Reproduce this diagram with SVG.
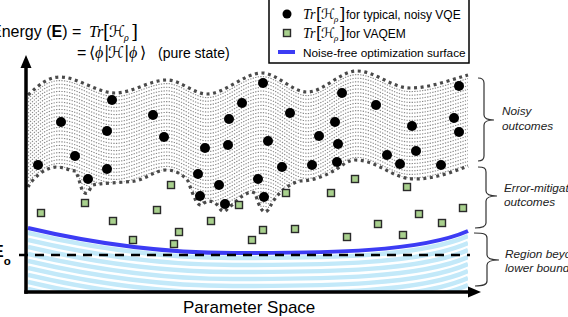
<svg xmlns="http://www.w3.org/2000/svg" xmlns:xlink="http://www.w3.org/1999/xlink" width="568" height="317" viewBox="0 0 568 317">
<style>
  text { font-family: "Liberation Sans", Arial, sans-serif; fill: #000; }
  .mi { font-family: "Liberation Serif", "DejaVu Serif", serif; font-style: italic; }
  .ms { font-family: "DejaVu Serif", "DejaVu Sans", "Noto Sans CJK SC", serif; font-style: normal; }
  .ab { font-family: "DejaVu Sans", "Noto Sans CJK SC", sans-serif; font-style: normal; font-size: 16px; }
  .lbl { font-style: italic; font-size: 11.8px; fill: #222; }
  .dot { fill: #000; }
  .sq { fill: #a8d08d; stroke: #2a2a2a; stroke-width: 1.4; }
  .edge { fill: none; stroke: #4a4a4a; stroke-width: 3.2; stroke-dasharray: 3 3.6; }
  .hatch { fill: none; stroke: #868686; stroke-width: 1.1; stroke-dasharray: 1.3 1.3; }
  .stripe { fill: none; stroke: #c3e9f9; stroke-width: 4.5; }
  .brace { fill: none; stroke: #333; stroke-width: 1.2; }
  .axis { stroke: #000; stroke-width: 3.5; fill: none; }
</style>
<defs>
  <path id="topc" d="M28,95 C40,84 48,77 60,77 C78,77 97,93 115,93 C132,93 150,80 167,80 C180,80 194,94 207,94 C225,94 244,73 262,73 C277,73 292,92 307,92 C324,92 340,71 357,71 C375,71 392,88 410,88 C430,88 450,80 468,75"/>
  <path id="botc" d="M28,187 C33,178 45,167 57,167 C64,167 70,171 76,171 L79,180 L82,190 Q86,197 90,189 L93,185 C100,183 120,183 135,181 C148,178 156,170 166,170 C176,170 183,175 188,181 L192,192 L196,201 Q200,208 204,203 L208,201 C212,201 216,203 219,207 Q223,215 228,208 L232,205 C238,199 245,193 252,192 L255,193 L258,202 Q263,216 268,210 L271,205 C276,196 285,185 300,181 C312,181 325,176 335,170 C343,165 348,160 355,160 C378,160 392,179 415,179 C435,179 452,172 468,166"/>
  <path id="bluec" d="M28,228 C100,245 170,253 233,253 C330,253 420,252 468,231"/>
  <clipPath id="belowTop">
    <path d="M28,95 C40,84 48,77 60,77 C78,77 97,93 115,93 C132,93 150,80 167,80 C180,80 194,94 207,94 C225,94 244,73 262,73 C277,73 292,92 307,92 C324,92 340,71 357,71 C375,71 392,88 410,88 C430,88 450,80 468,75 L468,300 L28,300 Z"/>
  </clipPath>
  <clipPath id="aboveBot">
    <path d="M28,187 C33,178 45,167 57,167 C64,167 70,171 76,171 L79,180 L82,190 Q86,197 90,189 L93,185 C100,183 120,183 135,181 C148,178 156,170 166,170 C176,170 183,175 188,181 L192,192 L196,201 Q200,208 204,203 L208,201 C212,201 216,203 219,207 Q223,215 228,208 L232,205 C238,199 245,193 252,192 L255,193 L258,202 Q263,216 268,210 L271,205 C276,196 285,185 300,181 C312,181 325,176 335,170 C343,165 348,160 355,160 C378,160 392,179 415,179 C435,179 452,172 468,166 L468,50 L28,50 Z"/>
  </clipPath>
  <clipPath id="belowBlue">
    <path d="M28,228 C100,245 170,253 233,253 C330,253 420,252 468,231 L468,291 L28,291 Z"/>
  </clipPath>
</defs>

<!-- lower-bound region stripes -->
<g id="lower-bound-region">
  <g clip-path="url(#belowBlue)" class="stripe">
    <use xlink:href="#bluec" y="5"/>
    <use xlink:href="#bluec" y="12"/>
    <use xlink:href="#bluec" y="19"/>
    <use xlink:href="#bluec" y="26"/>
    <use xlink:href="#bluec" y="33"/>
    <use xlink:href="#bluec" y="40"/>
    <use xlink:href="#bluec" y="47"/>
    <use xlink:href="#bluec" y="54"/>
    <use xlink:href="#bluec" y="61"/>
    <use xlink:href="#bluec" y="68"/>
  </g>
</g>

<!-- noisy region -->
<g id="noisy-region">
  <g clip-path="url(#belowTop)">
    <g clip-path="url(#aboveBot)" class="hatch">
      <use xlink:href="#topc" y="3.6"/><use xlink:href="#topc" y="7.2"/><use xlink:href="#topc" y="10.8"/><use xlink:href="#topc" y="14.4"/>
      <use xlink:href="#topc" y="18"/><use xlink:href="#topc" y="21.6"/><use xlink:href="#topc" y="25.2"/><use xlink:href="#topc" y="28.8"/>
      <use xlink:href="#topc" y="32.4"/><use xlink:href="#topc" y="36"/><use xlink:href="#topc" y="39.6"/><use xlink:href="#topc" y="43.2"/>
      <use xlink:href="#topc" y="46.8"/><use xlink:href="#topc" y="50.4"/><use xlink:href="#topc" y="54"/><use xlink:href="#topc" y="57.6"/>
      <use xlink:href="#topc" y="61.2"/><use xlink:href="#topc" y="64.8"/><use xlink:href="#topc" y="68.4"/><use xlink:href="#topc" y="72"/>
      <use xlink:href="#topc" y="75.6"/><use xlink:href="#topc" y="79.2"/><use xlink:href="#topc" y="82.8"/><use xlink:href="#topc" y="86.4"/>
      <use xlink:href="#topc" y="90"/><use xlink:href="#topc" y="93.6"/><use xlink:href="#topc" y="97.2"/><use xlink:href="#topc" y="100.8"/>
      <use xlink:href="#topc" y="104.4"/><use xlink:href="#topc" y="108"/><use xlink:href="#topc" y="111.6"/><use xlink:href="#topc" y="115.2"/>
      <use xlink:href="#topc" y="118.8"/><use xlink:href="#topc" y="122.4"/><use xlink:href="#topc" y="126"/><use xlink:href="#topc" y="129.6"/>
      <use xlink:href="#topc" y="133.2"/><use xlink:href="#topc" y="136.8"/><use xlink:href="#topc" y="140.4"/><use xlink:href="#topc" y="144"/>
    </g>
  </g>
  <use xlink:href="#topc" class="edge"/>
  <use xlink:href="#botc" class="edge"/>
</g>

<!-- noise-free surface and lower bound -->
<g id="noise-free-surface">
  <use xlink:href="#bluec" fill="none" stroke="#3c3cf4" stroke-width="4"/>
</g>
<g id="lower-bound-line">
  <line x1="19" y1="255" x2="470" y2="255" stroke="#000" stroke-width="2.5" stroke-dasharray="9 7"/>
  <text x="-7" y="257" font-size="16" font-weight="bold">E<tspan font-size="11.5" dy="8">o</tspan></text>
</g>

<!-- noisy VQE points -->
<g id="noisy-points" class="dot">
  <circle cx="38" cy="165" r="5"/><circle cx="61" cy="122" r="5"/><circle cx="75" cy="156" r="5"/>
  <circle cx="88" cy="179" r="5"/><circle cx="107" cy="131" r="5"/><circle cx="107" cy="169" r="5"/>
  <circle cx="112" cy="100" r="5"/><circle cx="153" cy="115" r="5"/><circle cx="164" cy="137" r="5"/>
  <circle cx="198" cy="174" r="5"/><circle cx="200" cy="196" r="5"/><circle cx="205" cy="148" r="5"/>
  <circle cx="219" cy="185" r="5"/><circle cx="225" cy="204" r="5"/><circle cx="228" cy="145" r="5"/>
  <circle cx="229" cy="119" r="5"/><circle cx="242" cy="103" r="5"/><circle cx="258" cy="179" r="5"/>
  <circle cx="263" cy="83" r="5"/><circle cx="264" cy="197" r="5"/><circle cx="268" cy="141" r="5"/>
  <circle cx="282" cy="167" r="5"/><circle cx="290" cy="113" r="5"/><circle cx="312" cy="165" r="5"/>
  <circle cx="319" cy="136" r="5"/><circle cx="335" cy="122" r="5"/><circle cx="337" cy="162" r="5"/>
  <circle cx="338" cy="144" r="5"/><circle cx="342" cy="93" r="5"/><circle cx="376" cy="105" r="5"/>
  <circle cx="387" cy="155" r="5"/><circle cx="400" cy="164" r="5"/><circle cx="412" cy="126" r="5"/>
  <circle cx="416" cy="151" r="5"/><circle cx="441" cy="165" r="5"/><circle cx="454" cy="118" r="5"/>
  <circle cx="459" cy="86" r="5"/><circle cx="459" cy="132" r="5"/>
</g>

<!-- VAQEM points -->
<g id="vaqem-points" class="sq">
  <rect x="37.5" y="209.5" width="7" height="7"/><rect x="81.5" y="199.5" width="7" height="7"/>
  <rect x="109.5" y="217.5" width="7" height="7"/><rect x="129.5" y="236.5" width="7" height="7"/>
  <rect x="153.5" y="206.5" width="7" height="7"/><rect x="167.5" y="181.5" width="7" height="7"/>
  <rect x="170.5" y="240.5" width="7" height="7"/><rect x="175.5" y="228.5" width="7" height="7"/>
  <rect x="207.5" y="217.5" width="7" height="7"/><rect x="235.5" y="201.5" width="7" height="7"/>
  <rect x="248.5" y="236.5" width="7" height="7"/><rect x="259.5" y="226.5" width="7" height="7"/>
  <rect x="282.5" y="189.5" width="7" height="7"/><rect x="291.5" y="225.5" width="7" height="7"/>
  <rect x="327.5" y="189.5" width="7" height="7"/><rect x="343.5" y="233.5" width="7" height="7"/>
  <rect x="351.5" y="175.5" width="7" height="7"/><rect x="374.5" y="220.5" width="7" height="7"/>
  <rect x="399.5" y="231.5" width="7" height="7"/><rect x="403.5" y="183.5" width="7" height="7"/>
  <rect x="415.5" y="210.5" width="7" height="7"/><rect x="438.5" y="219.5" width="7" height="7"/>
  <rect x="459.5" y="204.5" width="7" height="7"/>
</g>

<!-- axes -->
<g id="axes">
  <line class="axis" x1="26" y1="293.75" x2="26" y2="64"/>
  <polygon points="26,55 20.5,68 31.5,68" fill="#000"/>
  <line class="axis" x1="24.25" y1="292" x2="470" y2="292"/>
  <polygon points="481,292 468,286.5 468,297.5" fill="#000"/>
  <text x="183" y="313" font-size="17">Parameter Space</text>
</g>

<!-- energy title -->
<g id="energy-title">
  <text x="-9" y="37" font-size="16">Energy (<tspan font-weight="bold">E</tspan>) = <tspan class="mi" x="89">Tr</tspan><tspan class="ms" font-size="18" x="103" dy="1">[</tspan><tspan class="ms" x="109" dy="-1">ℋ</tspan><tspan class="mi" font-size="10" x="124" dy="4">ρ</tspan><tspan class="ms" font-size="18" x="131" dy="-3">]</tspan></text>
  <text x="77" y="58" font-size="16">=<tspan class="ab" x="89">⟨</tspan><tspan class="mi" x="95">ϕ</tspan><tspan class="ms" x="104">|</tspan><tspan class="ms" x="108">ℋ</tspan><tspan class="ms" x="124">|</tspan><tspan class="mi" x="129">ϕ</tspan></text>
  <text x="140" y="58" class="ab">⟩</text>
  <text x="158" y="58" font-size="14">(pure state)</text>
</g>

<!-- legend -->
<g id="legend">
  <rect x="269" y="-1" width="200" height="64" fill="#fff" stroke="#000" stroke-width="1.5"/>
  <circle cx="287" cy="14" r="4.5" fill="#000"/>
  <text x="303" y="19" font-size="14"><tspan class="mi">Tr</tspan><tspan class="ms" font-size="16" x="316" dy="1">[</tspan><tspan class="ms" x="321" dy="-1">ℋ</tspan><tspan class="mi" font-size="9" x="334" dy="3">ρ</tspan><tspan class="ms" font-size="16" x="339" dy="-2">]</tspan><tspan font-size="12" x="346" dy="-1.5">for typical, noisy VQE</tspan></text>
  <rect x="283.5" y="29.5" width="7" height="7" class="sq"/>
  <text x="303" y="38" font-size="14"><tspan class="mi">Tr</tspan><tspan class="ms" font-size="16" x="316" dy="1">[</tspan><tspan class="ms" x="321" dy="-1">ℋ</tspan><tspan class="mi" font-size="9" x="334" dy="3">ρ</tspan><tspan class="ms" font-size="16" x="339" dy="-2">]</tspan><tspan font-size="12" x="346" dy="-1.5">for VAQEM</tspan></text>
  <line x1="278" y1="52" x2="295" y2="52" stroke="#3c3cf4" stroke-width="4"/>
  <text x="303" y="56.5" font-size="11.8">Noise-free optimization surface</text>
</g>

<!-- braces -->
<g id="connectors">
  <path class="brace" d="M478,78 C482,78 484,79 484,83 L484,115 C484,118 487,120 494,120 C487,120 484,122 484,125 L484,156 C484,160 482,161 478,161"/>
  <path class="brace" d="M478,167 C484,167 486,168 486,172 L486,191 C486,194 489,196 497,196 C489,196 486,198 486,201 L486,223 C486,227 482,228 475,228"/>
  <path class="brace" d="M474,233 C484,233 487,234 487,238 L487,255 C487,258 490,260 499,260 C490,260 487,262 487,265 L487,281 C487,285 483,286 475,286"/>
</g>

<g id="label-noisy">
  <text class="lbl" x="502" y="115">Noisy</text>
  <text class="lbl" x="502" y="130">outcomes</text>
</g>
<g id="label-mitigated">
  <text class="lbl" x="504" y="192">Error-mitigated</text>
  <text class="lbl" x="504" y="206">outcomes</text>
</g>
<g id="label-beyond">
  <text class="lbl" x="505" y="258">Region beyond</text>
  <text class="lbl" x="505" y="272">lower bound</text>
</g>
</svg>
